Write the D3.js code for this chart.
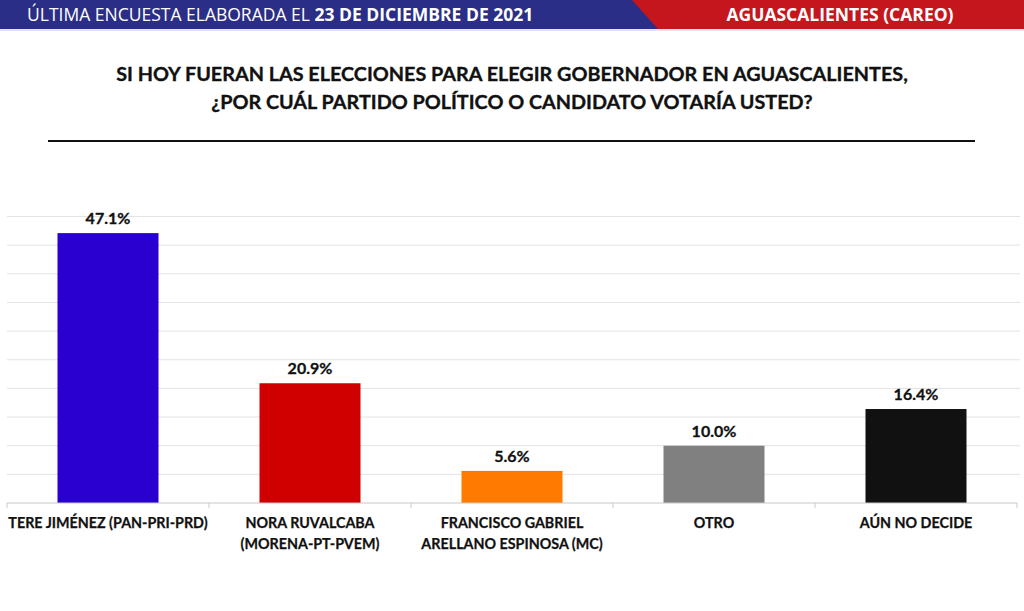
<!DOCTYPE html>
<html><head><meta charset="utf-8">
<script src="https://cdn.jsdelivr.net/npm/d3@7"></script>
<style>
html,body{margin:0;padding:0;background:#fff;}
svg{display:block;font-family:Lato,"Open Sans",sans-serif;}
</style></head>
<body>
<svg id="c" width="1024" height="611"></svg>
<script>
const categories = ["TERE JIMÉNEZ (PAN-PRI-PRD)", "NORA RUVALCABA\n(MORENA-PT-PVEM)", "FRANCISCO GABRIEL\nARELLANO ESPINOSA (MC)", "OTRO", "AÚN NO DECIDE"];
const values = [47.1, 20.9, 5.6, 10.0, 16.4];
const colors = ["#2A00D0", "#D00000", "#FF7A00", "#808080", "#111111"];
const gridTicks = [5, 10, 15, 20, 25, 30, 35, 40, 45, 50];
const titleLines = ["SI HOY FUERAN LAS ELECCIONES PARA ELEGIR GOBERNADOR EN AGUASCALIENTES,", "¿POR CUÁL PARTIDO POLÍTICO O CANDIDATO VOTARÍA USTED?"];
const headerLeftRegular = "ÚLTIMA ENCUESTA ELABORADA EL ";
const headerLeftBold = "23 DE DICIEMBRE DE 2021";
const headerRight = "AGUASCALIENTES (CAREO)";

const svg = d3.select("#c");

// header
svg.append("rect").attr("x",0).attr("y",0).attr("width",1024).attr("height",29).attr("fill","#C5161E");
svg.append("path").attr("d","M0,0 L632,0 L658,29 L0,29 Z").attr("fill","#2B2E86");
svg.append("rect").attr("x",0).attr("y",29).attr("width",1024).attr("height",2).attr("fill","#e4e4e4");
const hl = svg.append("text").attr("x",27).attr("y",21).attr("fill","#fff").attr("font-size",17.5)
  .attr("font-family","'Liberation Sans Narrow','Open Sans',sans-serif");
hl.append("tspan").attr("font-weight","normal").text(headerLeftRegular);
hl.append("tspan").attr("font-weight","bold").attr("dx",0).text(headerLeftBold);
svg.append("text").attr("x",840).attr("y",21).attr("text-anchor","middle").attr("fill","#fff")
  .attr("font-size",17.5).attr("font-weight","bold")
  .attr("font-family","'Liberation Sans Narrow','Open Sans',sans-serif").text(headerRight);

// title
svg.selectAll(".title").data(titleLines).join("text").attr("class","title")
  .attr("x",512).attr("y",(d,i)=>81+i*28).attr("text-anchor","middle")
  .attr("font-size",19.8).attr("font-weight","bold").attr("fill","#111")
  .attr("stroke","#111").attr("stroke-width",0.35).text(d=>d);
svg.append("line").attr("x1",48).attr("x2",975).attr("y1",141).attr("y2",141)
  .attr("stroke","#111").attr("stroke-width",2);

// chart
const x = d3.scaleBand().domain(categories).range([7,1017]).paddingInner(0.5).paddingOuter(0.25);
const y = d3.scaleLinear().domain([0,50]).range([503,216.5]);

svg.append("g").selectAll("line").data(gridTicks).join("line")
  .attr("x1",7).attr("x2",1020).attr("y1",d=>y(d)).attr("y2",d=>y(d))
  .attr("stroke","#e3e3e3").attr("stroke-width",1);

svg.append("g").selectAll("rect").data(values).join("rect")
  .attr("x",(d,i)=>x(categories[i])).attr("width",x.bandwidth())
  .attr("y",d=>y(d)).attr("height",d=>y(0)-y(d)).attr("fill",(d,i)=>colors[i]);

svg.append("g").selectAll("text").data(values).join("text")
  .attr("x",(d,i)=>x(categories[i])+x.bandwidth()/2).attr("y",d=>y(d)-9)
  .attr("text-anchor","middle").attr("font-size",16).attr("font-weight","bold").attr("fill","#111")
  .attr("stroke","#111").attr("stroke-width",0.3)
  .text(d=>d.toFixed(1)+"%");

// axis baseline and boundary ticks
const step = x.step();
const bounds = d3.range(categories.length+1).map(i=>x.range()[0]+i*step);
svg.append("line").attr("x1",7).attr("x2",1017).attr("y1",y(0)).attr("y2",y(0))
  .attr("stroke","#c8c8c8").attr("stroke-width",1);
svg.append("g").selectAll("line").data(bounds).join("line")
  .attr("x1",d=>d).attr("x2",d=>d).attr("y1",y(0)).attr("y2",y(0)+5)
  .attr("stroke","#c8c8c8").attr("stroke-width",1);

// category labels
const lab = svg.append("g").selectAll("text").data(categories).join("text")
  .attr("x",d=>x(d)+x.bandwidth()/2).attr("y",528).attr("text-anchor","middle")
  .attr("font-size",14.3).attr("font-weight","bold").attr("fill","#111")
  .attr("stroke","#111").attr("stroke-width",0.25);
lab.selectAll("tspan").data(d=>d.split("\n")).join("tspan")
  .attr("x",function(){return d3.select(this.parentNode).attr("x");})
  .attr("dy",(d,i)=>i===0?0:21).text(d=>d);
</script>
</body></html>
